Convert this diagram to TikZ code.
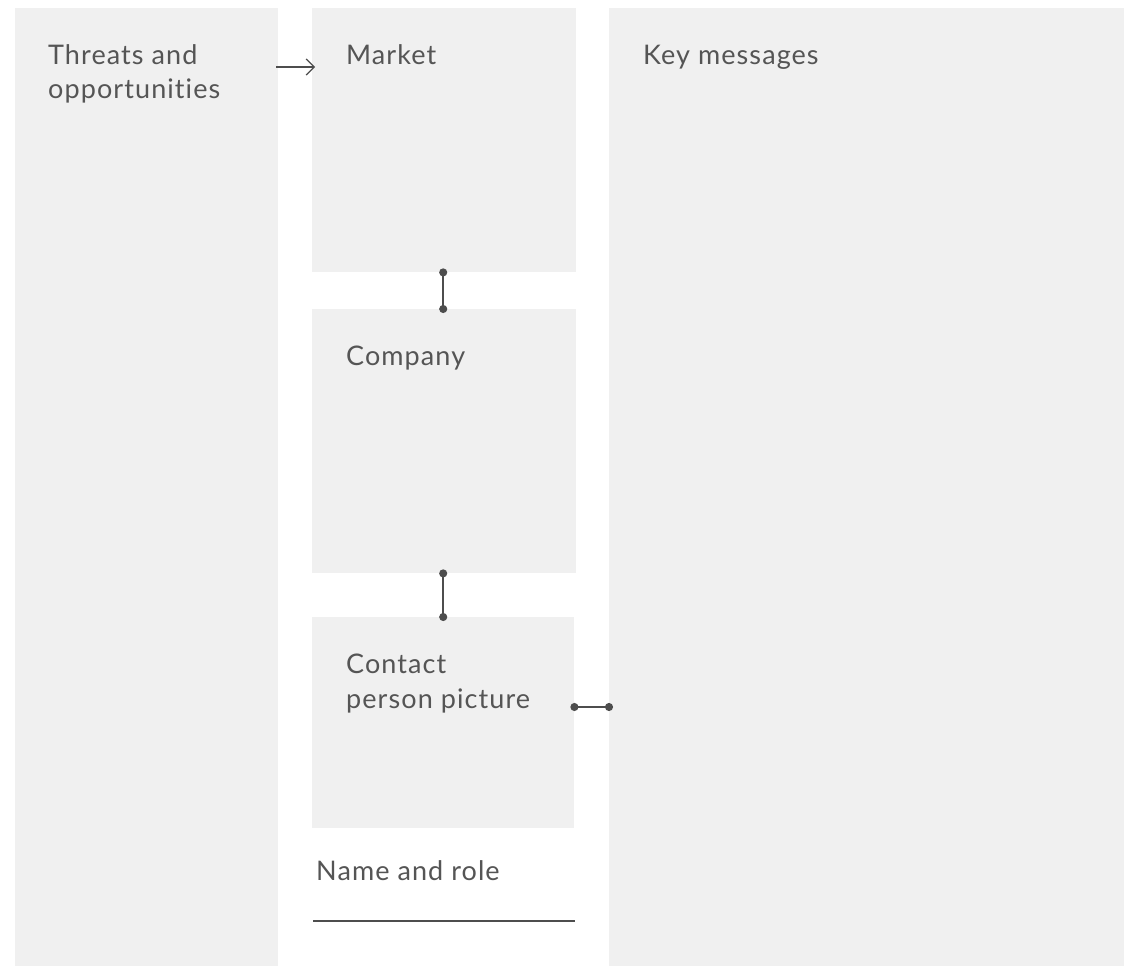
\documentclass[tikz,border=0pt]{standalone}
\usepackage{fontspec}
\setmainfont{Lato}[Ligatures=NoCommon, LetterSpace=4]
\usetikzlibrary{arrows.meta}
\definecolor{boxgray}{HTML}{F0F0F0}
\definecolor{txtgray}{HTML}{555555}
\definecolor{linegray}{HTML}{4D4D4D}
\tikzset{
  panel/.style={fill=boxgray, draw=none, inner sep=0pt, anchor=north west},
  lbl/.style={anchor=base west, inner sep=0pt, text=txtgray, font=\fontsize{27}{35}\selectfont, align=left},
  dotlink/.style={draw=linegray, line width=1.8pt, {Circle[length=8pt]}-{Circle[length=8pt]}, shorten <=-4pt, shorten >=-4pt},
  flowarrow/.style={draw=linegray, line width=1.2pt, -{Straight Barb[length=8pt,width=16pt,line width=1.2pt]}},
}
\begin{document}
\begin{tikzpicture}[x=1pt,y=-1pt]
\useasboundingbox (0,0) rectangle (1124,966);
\fill[white] (0,0) rectangle (1124,966);
% panels
\node[panel, minimum width=263pt, minimum height=958pt] (threats) at (15,8) {};
\node[panel, minimum width=264pt, minimum height=264pt] (market) at (312,8) {};
\node[panel, minimum width=264pt, minimum height=264pt] (company) at (312,309) {};
\node[panel, minimum width=262pt, minimum height=211pt] (contact) at (312,617) {};
\node[panel, minimum width=515pt, minimum height=958pt] (keymsg) at (609,8) {};
% labels (multi-line nodes: base = last line)
\node[lbl] (tlbl) at (48,99) {Threats and\\opportunities};
\node[lbl] (mlbl) at (346,64) {Market};
\node[lbl] (klbl) at (643,64) {Key messages};
\node[lbl] (clbl) at (346,365) {Company};
\node[lbl] (plbl) at (346,708) {Contact\\person picture};
\node[lbl] (nlbl) at (316,880) {Name and role};
% name underline
\coordinate (nl1) at (313,921);
\coordinate (nl2) at (575,921);
\draw[linegray, line width=1.6pt] (nl1) -- (nl2);
% connectors
\draw[flowarrow] (threats.east |- 0,67) ++(-2,0) -- ([xshift=3pt]market.west |- 0,67);
\draw[dotlink] ([xshift=-1pt]market.south) -- ([xshift=-1pt]company.north);
\draw[dotlink] ([xshift=-1pt]company.south) -- ([xshift=-1pt]company.south |- contact.north);
\draw[dotlink] (contact.east |- 0,707) -- (keymsg.west |- 0,707);
\end{tikzpicture}
\end{document}
